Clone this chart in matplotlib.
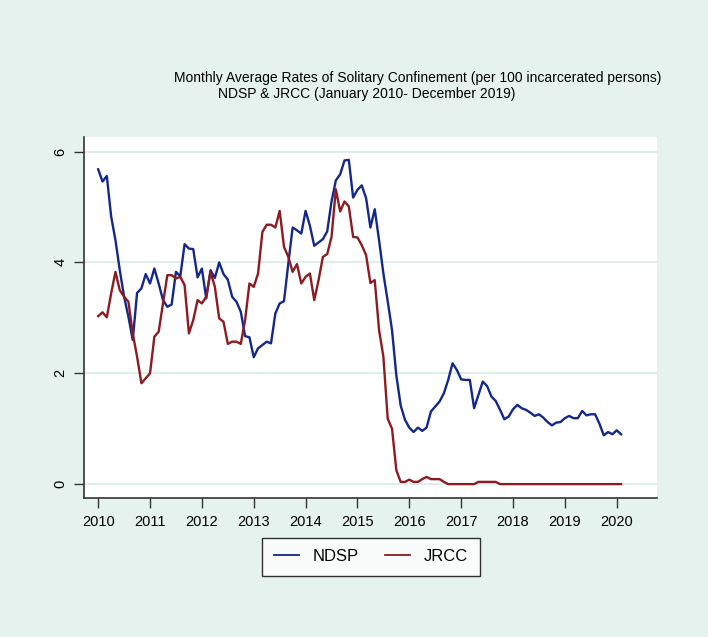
import numpy as np
import matplotlib
matplotlib.use("Agg")
import matplotlib.pyplot as plt

plt.rcParams['font.family'] = ['Liberation Sans', 'DejaVu Sans']

# monthly values, Jan 2010 onward
ndsp = [5.68, 5.46, 5.56, 4.83, 4.40, 3.86, 3.38, 3.02, 2.60, 3.45, 3.53, 3.79,
        3.62, 3.89, 3.62, 3.32, 3.20, 3.24, 3.83, 3.75, 4.33, 4.25, 4.24, 3.73,
        3.89, 3.35, 3.86, 3.72, 4.00, 3.79, 3.69, 3.38, 3.29, 3.11, 2.67, 2.65,
        2.29, 2.45, 2.51, 2.57, 2.54, 3.08, 3.26, 3.30, 3.98, 4.63, 4.58, 4.52,
        4.93, 4.66, 4.30, 4.36, 4.42, 4.56, 5.10, 5.48, 5.59, 5.84, 5.85, 5.17,
        5.31, 5.39, 5.16, 4.63, 4.96, 4.40, 3.80, 3.30, 2.78, 1.96, 1.42, 1.16,
        1.02, 0.94, 1.02, 0.96, 1.02, 1.31, 1.40, 1.49, 1.64, 1.88, 2.18, 2.06,
        1.89, 1.88, 1.88, 1.37, 1.61, 1.85, 1.77, 1.58, 1.50, 1.34, 1.17, 1.22,
        1.35, 1.43, 1.37, 1.34, 1.29, 1.23, 1.26, 1.20, 1.12, 1.06, 1.11, 1.12,
        1.19, 1.23, 1.19, 1.19, 1.32, 1.24, 1.26, 1.26, 1.09, 0.88, 0.94, 0.90,
        0.97, 0.90]

jrcc = [3.03, 3.10, 3.01, 3.44, 3.83, 3.50, 3.38, 3.29, 2.72, 2.30, 1.82, 1.91,
        2.00, 2.66, 2.75, 3.26, 3.77, 3.77, 3.71, 3.74, 3.59, 2.72, 2.96, 3.32,
        3.26, 3.38, 3.83, 3.56, 2.99, 2.93, 2.53, 2.57, 2.57, 2.53, 2.96, 3.62,
        3.56, 3.80, 4.55, 4.68, 4.68, 4.63, 4.93, 4.28, 4.10, 3.83, 3.97, 3.62,
        3.74, 3.80, 3.32, 3.68, 4.10, 4.15, 4.46, 5.32, 4.92, 5.10, 5.01, 4.46,
        4.45, 4.31, 4.13, 3.63, 3.68, 2.78, 2.30, 1.18, 1.00, 0.25, 0.04, 0.04,
        0.08, 0.04, 0.04, 0.09, 0.13, 0.09, 0.09, 0.09, 0.04, 0.00, 0.00, 0.00,
        0.00, 0.00, 0.00, 0.00, 0.04, 0.04, 0.04, 0.04, 0.04, 0.00, 0.00, 0.00,
        0.00, 0.00, 0.00, 0.00, 0.00, 0.00, 0.00, 0.00, 0.00, 0.00, 0.00, 0.00,
        0.00, 0.00, 0.00, 0.00, 0.00, 0.00, 0.00, 0.00, 0.00, 0.00, 0.00, 0.00,
        0.00, 0.00]

months = np.arange(len(ndsp))
x = 2010 + months / 12

years = list(range(2010, 2021))
yticks = [0, 2, 4, 6]

bg = '#E6F2EE'
grid_c = '#D8ECE5'

fig = plt.figure(figsize=(7.08, 6.37), dpi=100, facecolor=bg)
ax = fig.add_axes([0.1186, 0.218, 0.8094, 0.567])
ax.set_facecolor('white')

ax.plot(x, ndsp, color='#13288A', lw=1.7, label='NDSP')
ax.plot(x, jrcc, color='#8C1B22', lw=1.7, label='JRCC')

ax.set_xlim(2009.726, 2020.777)
ax.set_ylim(-0.253, 6.264)
ax.set_xticks(years)
ax.set_yticks(yticks)
ax.set_yticklabels([str(v) for v in yticks], rotation=90, va='center', fontsize=10.5)
ax.tick_params(axis='both', labelsize=10.5, length=7, width=1, color='#333333', pad=5)
ax.grid(axis='y', color=grid_c, lw=1.2)
ax.set_axisbelow(True)

for s in ['top', 'right']:
    ax.spines[s].set_visible(False)
for s in ['left', 'bottom']:
    ax.spines[s].set_color('#333333')
    ax.spines[s].set_linewidth(1.2)

fig.text(0.590, 0.877, 'Monthly Average Rates of Solitary Confinement (per 100 incarcerated persons)',
         ha='center', va='center', fontsize=10)
fig.text(0.518, 0.852, 'NDSP & JRCC (January 2010- December 2019)',
         ha='center', va='center', fontsize=10)

leg = fig.legend(loc='center', bbox_to_anchor=(0.524, 0.126), ncol=2, fontsize=12,
                 frameon=True, fancybox=False, edgecolor='black', facecolor='white',
                 handlelength=1.5, handletextpad=0.8, columnspacing=1.6, borderpad=0.7)
leg.get_frame().set_linewidth(1.0)
for h in leg.get_lines():
    h.set_linewidth(1.3)

fig.savefig('out.png', dpi=100, facecolor=bg)
